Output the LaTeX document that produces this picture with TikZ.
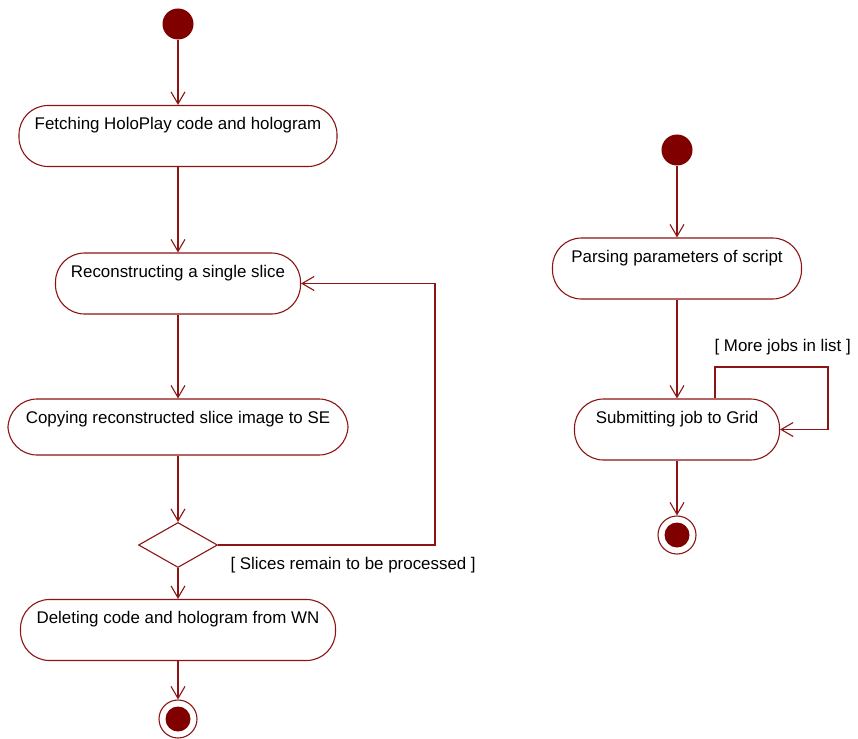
\documentclass[tikz,border=0pt]{standalone}
\usepackage{fontspec}
\setmainfont{Liberation Sans}
\usetikzlibrary{arrows.meta,shapes.geometric}
\definecolor{umlred}{RGB}{140,20,20}
\definecolor{umlfill}{RGB}{128,0,0}

\begin{document}
\begin{tikzpicture}[x=1pt,y=-1pt,line width=1.1pt,
    flow/.style={draw=umlred,-{Straight Barb[length=12pt,width=14pt]}},
    activity/.style={draw=umlred,rectangle,rounded corners=29pt,
        font=\fontsize{16.9}{20}\selectfont,inner xsep=0pt,inner ysep=4pt,
        text height=20pt,text depth=33pt},
    initial/.style={circle,fill=umlfill,minimum size=31pt,inner sep=0pt},
    final/.style={circle,draw=umlred,minimum size=38pt,inner sep=0pt,
        path picture={\fill[umlfill] (path picture bounding box.center) circle (12.5pt);}},
    decision/.style={diamond,draw=umlred,aspect=1.75,minimum width=79pt,
        minimum height=45pt,inner sep=0pt},
    guard/.style={font=\fontsize{16.9}{20}\selectfont,anchor=west,inner sep=0pt}]
    \useasboundingbox (0,0) rectangle (858,738);

    % Draw the worker node activity
    \node[initial] (startA) at (178,24) {};
    \node[activity,minimum width=318pt] (fetch) at (178,136) {Fetching HoloPlay code and hologram};
    \node[activity,minimum width=245pt] (slice) at (178,283.5) {Reconstructing a single slice};
    \node[activity,minimum width=340pt,text depth=28pt] (copy) at (178,427) {Copying reconstructed slice image to SE};
    \node[decision] (more) at (178,545) {};
    \node[activity,minimum width=315pt] (delete) at (178,630) {Deleting code and hologram from WN};
    \node[final] (endA) at (178,719) {};

    % Draw the flow down
    \draw[flow] (startA) -- (fetch);
    \draw[flow] (fetch) -- (slice);
    \draw[flow] (slice) -- (copy);
    \draw[flow] (copy) -- (more);
    \draw[flow] (more) -- (delete);
    \draw[flow] (delete) -- (endA);

    % Draw the loop back to the slice
    \coordinate (backA) at (435,400);
    \draw[flow] (more.east) -| (backA) |- (slice.east);
    \node[guard] (slicesGuard) at (230,565) {[ Slices remain to be processed ]};

    % Draw the submission activity
    \node[initial] (startB) at (677,150) {};
    \node[activity,minimum width=249pt] (parse) at (677,268.5) {Parsing parameters of script};
    \node[activity,minimum width=205pt] (submit) at (677,429.5) {Submitting job to Grid};
    \node[final] (endB) at (677,535) {};

    \draw[flow] (startB) -- (parse);
    \draw[flow] (parse) -- (submit);
    \draw[flow] (submit) -- (endB);

    % Draw the self loop
    \coordinate (backB) at (828,367);
    \draw[flow] ([xshift=38pt]submit.north) |- (backB) |- (submit.east);
    \node[guard] (jobsGuard) at (714,347) {[ More jobs in list ]};
\end{tikzpicture}
\end{document}
